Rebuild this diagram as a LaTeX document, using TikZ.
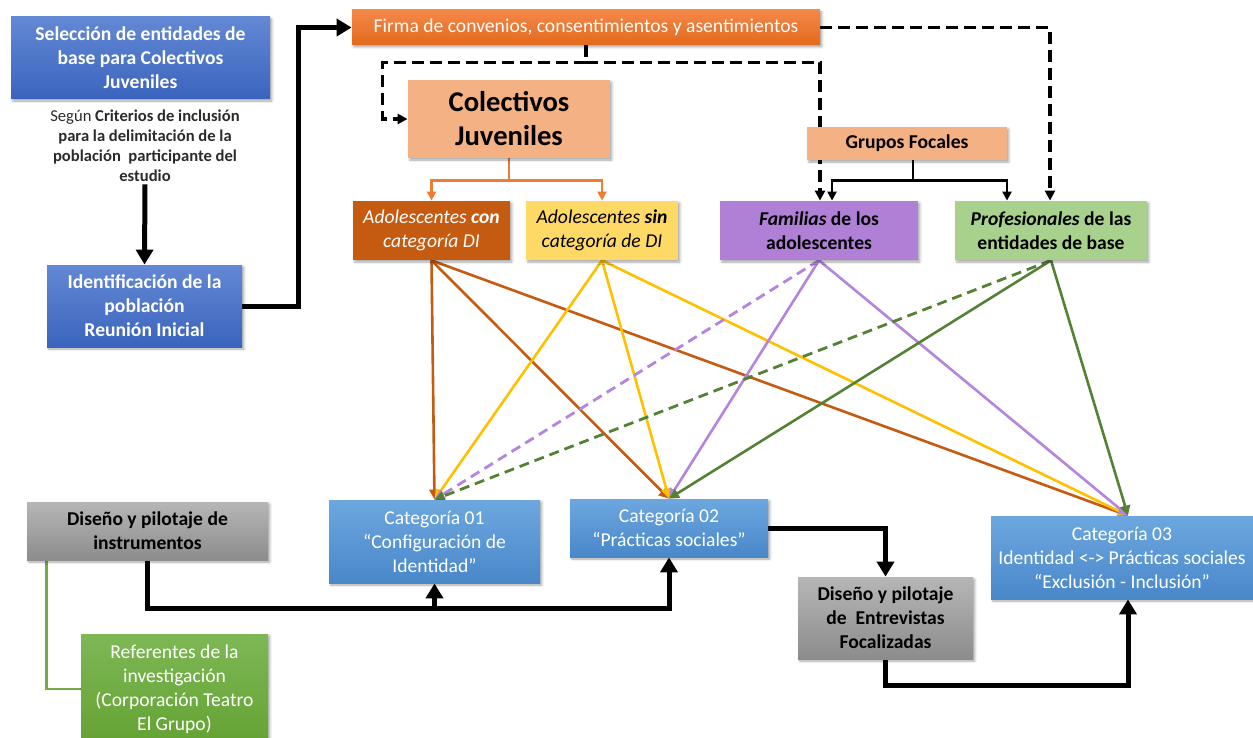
\documentclass[tikz,border=0pt]{standalone}
\usepackage{fontspec}
\setmainfont{Carlito}
\usetikzlibrary{arrows.meta,calc,backgrounds,shadows.blur}

\definecolor{blueTop}{HTML}{6388D4}
\definecolor{blueBot}{HTML}{3A64BD}
\definecolor{orgTop}{HTML}{F5884A}
\definecolor{orgBot}{HTML}{E2691B}
\definecolor{peach}{HTML}{F4B183}
\definecolor{rust}{HTML}{C55A11}
\definecolor{sand}{HTML}{FFD966}
\definecolor{lilac}{HTML}{B07FD6}
\definecolor{sage}{HTML}{A9D18E}
\definecolor{catTop}{HTML}{6DA7DF}
\definecolor{catBot}{HTML}{4987CA}
\definecolor{grayTop}{HTML}{B6B6B6}
\definecolor{grayBot}{HTML}{8C8C8C}
\definecolor{leafTop}{HTML}{7DB855}
\definecolor{leafBot}{HTML}{64A233}
\definecolor{amber}{HTML}{FFC000}
\definecolor{lilacLine}{HTML}{B484DE}
\definecolor{moss}{HTML}{548235}
\definecolor{tangerine}{HTML}{ED7D31}
\definecolor{grass}{HTML}{70AD47}
\definecolor{ink}{HTML}{2B2B2B}

\begin{document}
\begin{tikzpicture}[x=0.5pt,y=-0.5pt,
  box/.style={rectangle, inner sep=2pt, align=center,
    font=\fontsize{9.8}{12}\selectfont,
    blur shadow={shadow xshift=0.9pt, shadow yshift=-1pt, shadow blur radius=1.2pt, shadow opacity=35}},
  dim/.style 2 args={minimum width=#1*0.5pt, minimum height=#2*0.5pt},
  bluebox/.style={box, top color=blueTop, bottom color=blueBot, text=white},
  catbox/.style={box, top color=catTop, bottom color=catBot, text=white},
  graybox/.style={box, top color=grayTop, bottom color=grayBot, text=black},
  thickarrow/.style={line width=2.5pt, -{Triangle[width=8.5pt,length=7.5pt]}},
  dsh/.style={line width=1.7pt, dash pattern=on 6pt off 3pt},
  dtip/.style={-{Triangle[width=5pt,length=5pt]}},
  link/.style={line width=1.3pt, -{Triangle[width=5pt,length=5pt]}},
  dlink/.style={line width=1.4pt, dash pattern=on 5pt off 3pt, -{Triangle[width=5pt,length=5pt]}},
  stub/.style={line width=1.3pt, -{Triangle[width=4.5pt,length=4.5pt]}}
]
\useasboundingbox (0,0) rectangle (1253,738);

% ---- nodes ----
\node[bluebox, dim={259}{82}] (sel) at (140.5,58)
  {\textbf{Selección de entidades de}\\\textbf{base para Colectivos}\\\textbf{Juveniles}};
\node[align=center, text=ink, font=\fontsize{8.3}{10}\selectfont, inner sep=1pt] (seg) at (145,146)
  {Según \textbf{Criterios de inclusión}\\\textbf{para la delimitación de la}\\\textbf{población\ \ participante del}\\\textbf{estudio}};
\node[bluebox, dim={195}{82}] (ident) at (144.5,306)
  {\textbf{Identificación de la}\\\textbf{población}\\\textbf{Reunión Inicial}};
\node[box, top color=orgTop, bottom color=orgBot, text=white, dim={468}{35}] (firma) at (586,27.5)
  {Firma de convenios, consentimientos y asentimientos};
\node[box, fill=peach, dim={202}{78}, font=\fontsize{14.3}{17}\selectfont] (colec) at (509,119)
  {\textbf{Colectivos}\\\textbf{Juveniles}};
\node[box, fill=peach, dim={200}{33}] (gf) at (907,143.5) {\textbf{Grupos Focales}};
\node[box, fill=rust, text=white, dim={157}{59}] (acon) at (431.5,230.5)
  {\textit{Adolescentes \textbf{con}}\\\textit{categoría DI}};
\node[box, fill=sand, dim={152}{59}] (asin) at (602,230.5)
  {\textit{Adolescentes \textbf{sin}}\\\textit{categoría de DI}};
\node[box, fill=lilac, dim={198}{59}] (fam) at (819,230.5)
  {\textbf{\textit{Familias} de los}\\\textbf{adolescentes}};
\node[box, fill=sage, dim={192}{59}] (prof) at (1051,230.5)
  {\textbf{\textit{Profesionales}\ de las}\\\textbf{entidades de base}};
\node[catbox, dim={211}{83}] (cat1) at (434.5,541.5)
  {Categoría 01\\“Configuración de\\Identidad”};
\node[catbox, dim={198}{58}] (cat2) at (669,528)
  {Categoría 02\\“Prácticas sociales”};
\node[catbox, dim={262}{83}] (cat3) at (1122,557.5)
  {Categoría 03\\Identidad <-> Prácticas sociales\\“Exclusión - Inclusión”};
\node[graybox, dim={241}{58}] (dis) at (147.5,531)
  {\textbf{Diseño y pilotaje de}\\\textbf{instrumentos}};
\node[graybox, dim={175}{82}] (de) at (885.5,618)
  {\textbf{Diseño y pilotaje}\\\textbf{de\ \ Entrevistas}\\\textbf{Focalizadas}};
\node[box, top color=leafTop, bottom color=leafBot, text=white, dim={187}{110}] (ref) at (174.5,689)
  {Referentes de la\\investigación\\(Corporación Teatro\\El Grupo)};

% ---- connectors ----
\begin{pgfonlayer}{background}
  % main flow on the left
  \draw[thickarrow] (seg.south) -- (ident.north);
  \draw[thickarrow] (ident.east) -- ++(56,0) |- (firma.west);

  % dashed distribution from the agreements box
  \draw[dsh] (firma.south) -- ++(0,17) coordinate (dj);
  \draw[dsh, dtip] (dj) -| ($(colec.west)+(-25,0)$) -- (colec.west);
  \draw[dsh, dtip] (dj) -| ($(fam.north)+(1,0)$);
  \draw[dsh, dtip] (firma.east) -| ($(prof.north)+(-1,0)$);

  % youth collectives split
  \draw[tangerine, line width=1.3pt] (colec.south) -- ++(0,22) coordinate (oj);
  \draw[tangerine, stub] (oj) -| (acon.north);
  \draw[tangerine, stub] (oj) -| (asin.north);

  % focus groups split
  \draw[line width=1.3pt] ($(gf.south)+(6,0)$) -- ++(0,20) coordinate (gj);
  \draw[stub] (gj) -| ($(fam.north)+(13,0)$);
  \draw[stub] (gj) -| ($(prof.north)+(-44,0)$);

  % participants to categories
  \draw[rust, link] (acon.south) -- (cat1.north);
  \draw[rust, link] (acon.south) -- (cat2.north);
  \draw[rust, link] (acon.south) -- ($(cat3.north)+(6,0)$);
  \draw[amber, link] (asin.south) -- (cat1.north);
  \draw[amber, link] (asin.south) -- (cat2.north);
  \draw[amber, link] (asin.south) -- ($(cat3.north)+(6,0)$);
  \draw[lilacLine, dlink] (fam.south) -- (cat1.north);
  \draw[lilacLine, link] (fam.south) -- (cat2.north);
  \draw[lilacLine, link] (fam.south) -- ($(cat3.north)+(6,0)$);
  \draw[moss, dlink] (prof.south) -- (cat1.north);
  \draw[moss, link] (prof.south) -- (cat2.north);
  \draw[moss, link] (prof.south) -- ($(cat3.north)+(6,0)$);

  % instruments and references
  \draw[grass, line width=1.4pt] ($(dis.south west)+(20,0)$) |- (ref.west);
  \draw[thickarrow] (dis.south) -- ++(0,48) coordinate (bj) -| (cat2.south);
  \draw[thickarrow] (bj -| cat1.south) -- (cat1.south);

  % interviews
  \draw[thickarrow] (cat2.east) -| (de.north);
  \draw[thickarrow] (de.south) -- ++(0,26) -| ($(cat3.south)+(6,0)$);
\end{pgfonlayer}
\end{tikzpicture}
\end{document}
